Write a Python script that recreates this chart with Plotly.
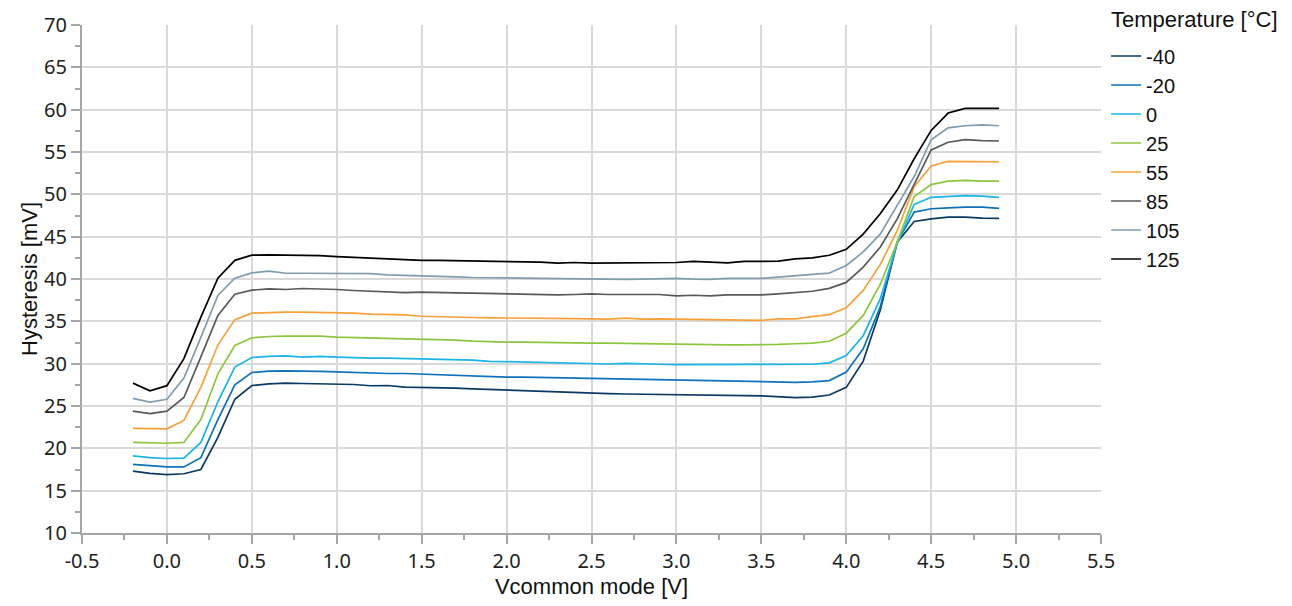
import plotly.graph_objects as go

vcm = [-0.2, -0.1, 0.0, 0.1, 0.2, 0.3, 0.4, 0.5, 0.6, 0.7, 0.8, 0.9, 1.0, 1.1, 1.2, 1.3, 1.4,
       1.5, 1.6, 1.7, 1.8, 1.9, 2.0, 2.1, 2.2, 2.3, 2.4, 2.5, 2.6, 2.7, 2.8, 2.9, 3.0, 3.1,
       3.2, 3.3, 3.4, 3.5, 3.6, 3.7, 3.8, 3.9, 4.0, 4.1, 4.2, 4.3, 4.4, 4.5, 4.6, 4.7, 4.8, 4.9]

temp_labels = ["-40", "-20", "0", "25", "55", "85", "105", "125"]
legend_title = "Temperature [°C]"

x_ticks = [-0.5, 0.0, 0.5, 1.0, 1.5, 2.0, 2.5, 3.0, 3.5, 4.0, 4.5, 5.0, 5.5]
x_ticktext = ["-0.5", "0.0", "0.5", "1.0", "1.5", "2.0", "2.5", "3.0", "3.5", "4.0", "4.5", "5.0", "5.5"]

hyst_m40 = [17.3, 17.05, 16.9, 17.0, 17.5, 21.3, 25.8, 27.42, 27.62, 27.7, 27.66, 27.62, 27.58,
            27.54, 27.39, 27.42, 27.23, 27.2, 27.18, 27.1, 27.02, 26.94, 26.85, 26.78, 26.7,
            26.62, 26.54, 26.46, 26.46, 26.42, 26.38, 26.34, 26.3, 26.26, 26.26, 26.22, 26.22,
            26.2, 26.1, 26.0, 26.05, 26.3, 27.2, 30.3, 36.3, 44.35, 46.8, 47.1, 47.3, 47.3,
            47.2, 47.15]
hyst_m20 = [18.1, 17.95, 17.8, 17.8, 18.9, 23.4, 27.5, 28.96, 29.12, 29.16, 29.08, 29.08, 29.04,
            28.96, 28.92, 28.84, 28.84, 28.76, 28.68, 28.6, 28.5, 28.5, 28.42, 28.42, 28.38,
            28.34, 28.3, 28.26, 28.26, 28.18, 28.1, 28.1, 28.02, 28.02, 27.98, 27.91, 27.87,
            27.85, 27.8, 27.8, 27.85, 28.0, 29.0, 31.75, 36.7, 44.35, 47.9, 48.3, 48.4, 48.5,
            48.5, 48.35]
hyst_0 = [19.1, 18.9, 18.8, 18.85, 20.7, 25.5, 29.6, 30.73, 30.85, 30.93, 30.77, 30.85, 30.77,
          30.69, 30.65, 30.65, 30.61, 30.57, 30.49, 30.45, 30.43, 30.28, 30.24, 30.2, 30.16,
          30.12, 30.08, 30.04, 29.96, 30.04, 29.96, 29.93, 29.89, 29.89, 29.89, 29.85, 29.85,
          29.85, 29.85, 29.85, 29.93, 30.1, 30.95, 33.3, 37.65, 44.2, 48.8, 49.65, 49.75, 49.85,
          49.8, 49.65]
hyst_25 = [20.7, 20.65, 20.6, 20.7, 23.4, 28.8, 32.15, 33.05, 33.21, 33.25, 33.25, 33.25, 33.13,
           33.09, 33.05, 33.01, 32.97, 32.89, 32.85, 32.77, 32.66, 32.58, 32.55, 32.55, 32.5,
           32.47, 32.47, 32.43, 32.43, 32.39, 32.35, 32.31, 32.31, 32.31, 32.27, 32.23, 32.23,
           32.23, 32.27, 32.35, 32.43, 32.65, 33.6, 35.7, 39.35, 44.35, 49.75, 51.15, 51.55,
           51.65, 51.55, 51.55]
hyst_55 = [22.35, 22.3, 22.3, 23.3, 27.2, 32.2, 35.2, 35.96, 36.04, 36.08, 36.08, 36.04, 36.04,
           35.96, 35.84, 35.8, 35.76, 35.6, 35.53, 35.5, 35.45, 35.41, 35.41, 35.37, 35.33,
           35.37, 35.33, 35.29, 35.25, 35.37, 35.25, 35.29, 35.25, 35.25, 35.25, 35.21, 35.17,
           35.12, 35.3, 35.3, 35.55, 35.8, 36.6, 38.65, 41.7, 45.7, 50.9, 53.35, 53.9, 53.9,
           53.85, 53.85]
hyst_85 = [24.4, 24.1, 24.4, 26.0, 30.8, 35.7, 38.2, 38.68, 38.84, 38.76, 38.88, 38.84, 38.76,
           38.64, 38.56, 38.48, 38.4, 38.44, 38.44, 38.37, 38.33, 38.29, 38.25, 38.13, 38.13,
           38.13, 38.17, 38.25, 38.17, 38.17, 38.13, 38.17, 38.0, 38.08, 38.0, 38.13, 38.13,
           38.13, 38.25, 38.37, 38.55, 38.9, 39.6, 41.4, 43.75, 47.1, 51.1, 55.25, 56.15, 56.45,
           56.35, 56.3]
hyst_105 = [25.9, 25.45, 25.8, 28.3, 33.1, 38.05, 40.1, 40.72, 40.92, 40.68, 40.68, 40.68, 40.68,
            40.64, 40.64, 40.49, 40.45, 40.35, 40.3, 40.26, 40.18, 40.18, 40.14, 40.1, 40.07,
            40.03, 40.03, 39.98, 39.98, 39.95, 39.98, 40.03, 40.07, 39.98, 39.95, 40.07, 40.07,
            40.07, 40.22, 40.35, 40.55, 40.7, 41.6, 43.2, 45.3, 48.7, 52.1, 56.45, 57.85, 58.1,
            58.2, 58.1]
hyst_125 = [27.7, 26.8, 27.4, 30.6, 35.5, 40.1, 42.2, 42.81, 42.85, 42.85, 42.81, 42.77, 42.65,
            42.57, 42.5, 42.42, 42.26, 42.19, 42.19, 42.15, 42.11, 42.07, 42.03, 42.03, 42.0,
            41.87, 41.95, 41.87, 41.87, 41.92, 41.95, 41.95, 41.95, 42.07, 41.95, 41.91, 42.07,
            42.11, 42.11, 42.38, 42.5, 42.8, 43.5, 45.3, 47.7, 50.5, 54.2, 57.55, 59.6, 60.15,
            60.15, 60.15]

series = [hyst_m40, hyst_m20, hyst_0, hyst_25, hyst_55, hyst_85, hyst_105, hyst_125]
colors = ["#0b3a63", "#0f72b8", "#1cb3e6", "#8cc63f", "#f7a03a", "#58595b", "#7f9db0", "#000000"]

fig = go.Figure()
for name, ys, col in zip(temp_labels, series, colors):
    fig.add_trace(go.Scatter(x=vcm, y=ys, mode="lines", name=name,
                             line=dict(color=col, width=1.7)))

tick_font = dict(family="Noto Sans, Open Sans, sans-serif", size=20, color="#222222")
title_font = dict(family="Liberation Sans, Arial, sans-serif", size=22, color="#111111")

fig.update_layout(
    width=1292, height=606,
    margin=dict(l=74, r=199, t=17, b=81, autoexpand=False),
    paper_bgcolor="white", plot_bgcolor="white",
    showlegend=True,
    legend=dict(
        font=dict(family="Liberation Sans, Arial, sans-serif", size=20, color="#111111"),
        x=1.005, xanchor="left", xref="paper",
        y=0.953, yref="container", yanchor="top",
        bgcolor="rgba(0,0,0,0)", itemwidth=30, tracegroupgap=0,
    ),
    annotations=[dict(
        text=legend_title, xref="paper", yref="paper",
        x=1.0075, y=1 + 6 / 508, xanchor="left", yanchor="middle", showarrow=False,
        font=dict(family="Liberation Sans, Arial, sans-serif", size=22, color="#111111"),
    )],
)

fig.update_xaxes(
    range=[-0.5, 5.5], tickmode="array", tickvals=x_ticks, ticktext=x_ticktext,
    showgrid=True, gridcolor="#d9d9d9", gridwidth=2,
    showline=True, linecolor="#a6a6a6", linewidth=2,
    ticks="outside", ticklen=9, tickcolor="#a6a6a6", tickwidth=2,
    minor=dict(dtick=0.25, tick0=-0.5, ticks="outside", ticklen=5, tickcolor="#a6a6a6", tickwidth=1.5, showgrid=False),
    tickfont=tick_font, zeroline=False,
    title=dict(text="Vcommon mode [V]", font=title_font, standoff=4),
)
fig.update_yaxes(
    range=[10, 70], dtick=5, tick0=10,
    showgrid=True, gridcolor="#d9d9d9", gridwidth=2,
    showline=True, linecolor="#a6a6a6", linewidth=2,
    ticks="outside", ticklen=9, tickcolor="#a6a6a6", tickwidth=2,
    minor=dict(dtick=2.5, ticks="outside", ticklen=5, tickcolor="#a6a6a6", tickwidth=1.5, showgrid=False),
    tickfont=tick_font, zeroline=False,
    title=dict(text="Hysteresis [mV]", font=title_font, standoff=0),
)

fig.write_html("out.html")
